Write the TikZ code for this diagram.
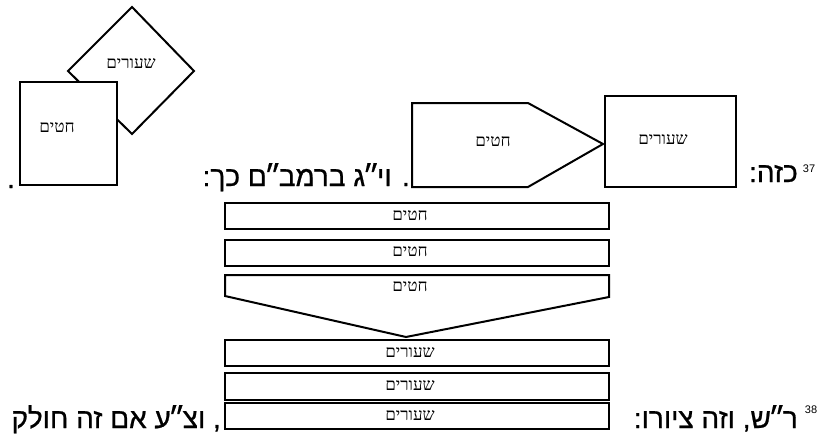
\documentclass[tikz,border=0pt]{standalone}
\usepackage{fontspec}
\setmainfont{Liberation Sans}
\newfontfamily\hebfont[Script=Hebrew,FakeBold=0.8]{Liberation Sans}
\newfontfamily\hebserif[Script=Hebrew]{Liberation Serif}
\newfontfamily\numfont{Liberation Sans}
\newcommand\gsh{\kern-2.5pt ״\kern-2.5pt}
\TeXXeTstate=1
\begin{document}
\begin{tikzpicture}[x=1pt,y=-1pt,
  shp/.style={draw, line width=2pt, fill=white, line join=miter},
  box/.style={draw, line width=2pt, fill=white, inner sep=0pt},
  lbl/.style={font=\hebserif\fontsize{17}{19}\selectfont, inner sep=0pt},
  big/.style={font=\hebfont\fontsize{28}{32}\selectfont, inner sep=0pt},
  supnum/.style={font=\numfont\fontsize{11}{13}\selectfont, inner sep=0pt}]
\useasboundingbox (0,0) rectangle (825,436);

% left figure: diamond behind square
\draw[shp] (132,7) -- (194,71) -- (132,134) -- (68,71) -- cycle;
\node[lbl] (dl) at (131,64) {\beginR שעורים\endR};
\node[box, minimum width=97pt, minimum height=103pt] (sq) at (68.5,133.5) {};
\node[lbl] (sql) at (57,128) {\beginR חטים\endR};

% right figure: pentagon and box
\draw[shp] (412,103) -- (528,103) -- (603,144) -- (528,187) -- (412,187) -- cycle;
\node[lbl] (pl) at (493,142) {\beginR חטים\endR};
\node[box, minimum width=131pt, minimum height=91pt] (rb) at (670.5,141.5) {};
\node[lbl] (rbl) at (663,140) {\beginR שעורים\endR};

% stacked bars
\node[box, minimum width=384pt, minimum height=26pt] (b1) at (417,216) {};
\node[box, minimum width=384pt, minimum height=26pt] (b2) at (417,253) {};
\draw[shp] (225,275) -- (609,275) -- (609,297) -- (406,337) -- (225,296) -- cycle;
\node[box, minimum width=384pt, minimum height=26pt] (b4) at (417,353) {};
\node[box, minimum width=384pt, minimum height=27pt] (b5) at (417,386.5) {};
\node[box, minimum width=384pt, minimum height=26pt] (b6) at (417,416) {};
\node[lbl] (l1) at (410,216) {\beginR חטים\endR};
\node[lbl] (l2) at (410,252) {\beginR חטים\endR};
\node[lbl] (l3) at (410,287) {\beginR חטים\endR};
\node[lbl] (l4) at (410,353) {\beginR שעורים\endR};
\node[lbl] (l5) at (410,386) {\beginR שעורים\endR};
\node[lbl] (l6) at (410,416) {\beginR שעורים\endR};

% running text
\node[big, anchor=base] (p0) at (11,188) {.};
\node[big, anchor=base east] (t1) at (410,186) {\beginR. וי\gsh ג ברמב\gsh ם כך:\endR};
\node[big, anchor=base east] (t2) at (798,182) {\beginR כזה:\endR};
\node[supnum, anchor=base] (n37) at (809,172) {37};
\node[big, anchor=base east] (t3) at (221,428) {\beginR, וצ\gsh ע אם זה חולק\endR};
\node[big, anchor=base east] (t4) at (798,428) {\beginR ר\gsh ש, וזה ציורו:\endR};
\node[supnum, anchor=base] (n38) at (811,413) {38};
\end{tikzpicture}
\end{document}
